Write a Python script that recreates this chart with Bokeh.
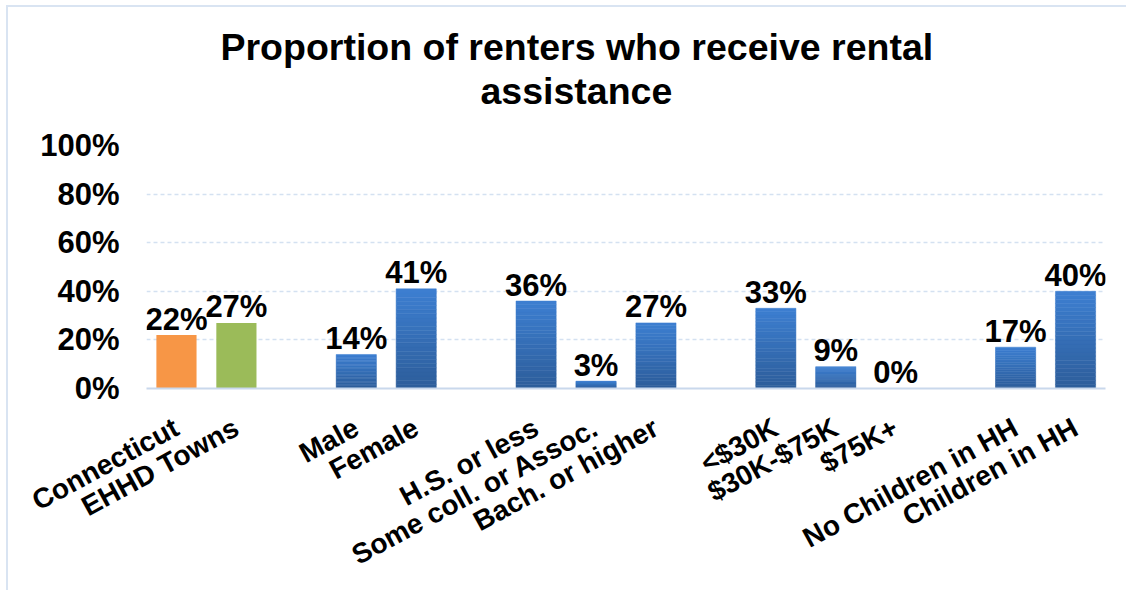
import math
from bokeh.plotting import figure
from bokeh.models import Range1d, FixedTicker, Title, ColumnDataSource
from bokeh.core.properties import value
from bokeh.embed import file_html
from bokeh.resources import INLINE

# ---------------- data ----------------
categories = ["Connecticut", "EHHD Towns", "Male", "Female", "H.S. or less",
              "Some coll. or Assoc.", "Bach. or higher", "<$30K", "$30K-$75K",
              "$75K+", "No Children in HH", "Children in HH"]
groups = [0, 0, 1, 1, 2, 2, 2, 3, 3, 3, 4, 4]
values = [22, 27, 14, 41, 36, 3, 27, 33, 9, 0, 17, 40]
bar_kind = ["orange", "green", "blue", "blue", "blue", "blue", "blue",
            "blue", "blue", "blue", "blue", "blue"]
y_ticks = [0, 20, 40, 60, 80, 100]
title_line1 = "Proportion of renters who receive rental"
title_line2 = "assistance"

FONT = "Liberation Sans"
solid = {"orange": "#F79646", "green": "#9BBB59"}
blue_top = (0x3D, 0x7F, 0xD1)
blue_bot = (0x2D, 0x5D, 0x9A)

# x slot positions: one empty slot between groups
xs = [i + g for i, g in enumerate(groups)]
n_slots = xs[-1] + 1

p = figure(width=1120, height=585, output_backend="svg", toolbar_location=None,
           x_range=Range1d(-0.5, n_slots - 0.5), y_range=Range1d(0, 100),
           min_border_left=138, min_border_right=23, min_border_top=138,
           min_border_bottom=204)
p.styles = {"border-left": "2px solid #D9E4F2", "border-top": "2px solid #D9E4F2",
            "margin-left": "6px", "margin-top": "5px"}
p.outline_line_color = None
p.background_fill_color = "white"
p.border_fill_color = None

# solid bars
sx = [x for x, k in zip(xs, bar_kind) if k != "blue"]
sv = [v for v, k in zip(values, bar_kind) if k != "blue"]
sc = [solid[k] for k in bar_kind if k != "blue"]
p.vbar(x=sx, top=sv, bottom=0, width=0.67, fill_color=sc, line_color=None)

# gradient blue bars (bands computed from each value)
N = 24
bx, bb, bt, bcol = [], [], [], []
for x, v, k in zip(xs, values, bar_kind):
    if k != "blue" or v <= 0:
        continue
    for i in range(N):
        f = (i + 0.5) / N
        c = tuple(int(round(blue_bot[j] + (blue_top[j] - blue_bot[j]) * f)) for j in range(3))
        bx.append(x)
        bb.append(v * i / N)
        bt.append(v * (i + 1) / N)
        bcol.append("#%02X%02X%02X" % c)
p.vbar(x=bx, bottom=bb, top=bt, width=0.67, fill_color=bcol, line_color=bcol,
       line_width=0.5)

# value labels
src = ColumnDataSource(dict(x=xs, y=values, t=[f"{v}%" for v in values]))
p.text(x="x", y="y", text="t", source=src, y_offset=-16, text_align="center",
       text_baseline="alphabetic", text_font=value(FONT), text_font_style="bold",
       text_font_size="31px", text_color="black")

# axes
p.yaxis.ticker = FixedTicker(ticks=y_ticks)
p.yaxis.major_label_overrides = {t: f"{t}%" for t in y_ticks}
p.yaxis.axis_line_color = None
p.yaxis.major_tick_line_color = None
p.yaxis.minor_tick_line_color = None
p.yaxis.major_tick_out = 0
p.yaxis.major_label_standoff = 27
p.yaxis.major_label_text_font = FONT
p.yaxis.major_label_text_font_style = "bold"
p.yaxis.major_label_text_font_size = "31px"
p.yaxis.major_label_text_color = "black"

p.xaxis.ticker = FixedTicker(ticks=xs)
p.xaxis.major_label_overrides = {x: c for x, c in zip(xs, categories)}
p.xaxis.major_label_orientation = math.radians(28.5)
p.xaxis.axis_line_color = "#C9D8EC"
p.xaxis.axis_line_width = 2
p.xaxis.major_tick_line_color = None
p.xaxis.minor_tick_line_color = None
p.xaxis.major_tick_out = 0
p.xaxis.major_label_standoff = 37
p.xaxis.major_label_text_font = FONT
p.xaxis.major_label_text_font_style = "bold"
p.xaxis.major_label_text_font_size = "28px"
p.xaxis.major_label_text_color = "black"

p.xgrid.grid_line_color = None
p.ygrid.ticker = FixedTicker(ticks=y_ticks[1:])
p.ygrid.grid_line_color = "#D4E1F1"
p.ygrid.grid_line_dash = "4 3"
p.ygrid.grid_line_width = 1.5

# title: spacer, then two lines, centred over the whole chart
p.add_layout(Title(text=" ", standoff=31, text_font_size="1px"), "above")
p.add_layout(Title(text=title_line2, align="left", offset=334, standoff=0,
                   text_font=FONT, text_font_style="bold", text_font_size="37.5px",
                   text_color="black"), "above")
p.add_layout(Title(text=title_line1, align="left", offset=74, standoff=0,
                   text_font=FONT, text_font_style="bold", text_font_size="37.5px",
                   text_color="black"), "above")

open("out.html", "w").write(file_html(p, INLINE))
